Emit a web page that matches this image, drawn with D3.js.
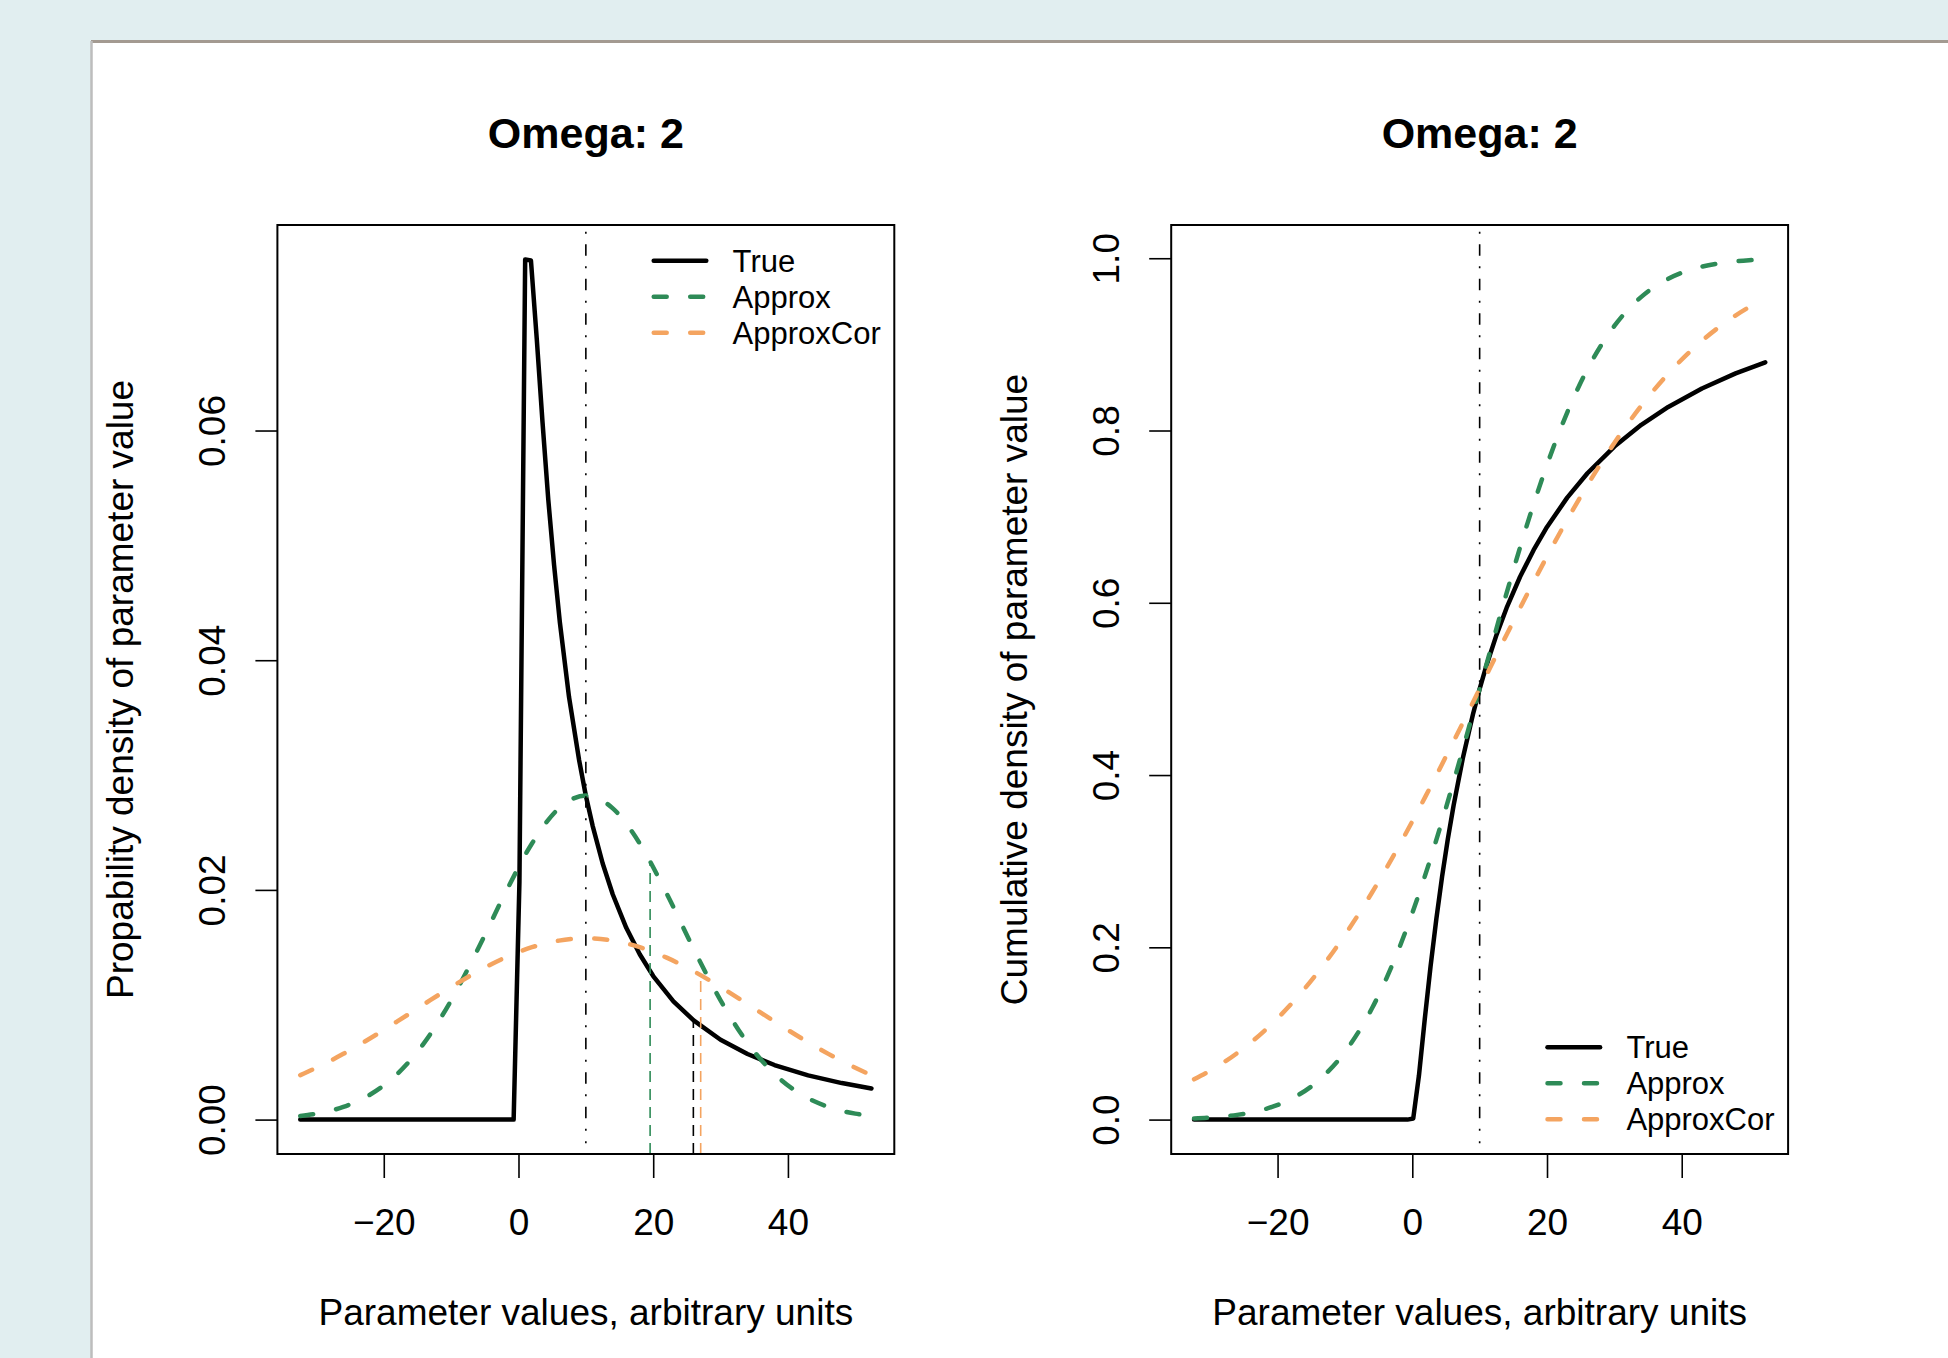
<!DOCTYPE html>
<html>
<head>
<meta charset="utf-8">
<script src="https://cdn.jsdelivr.net/npm/d3@7"></script>
<style>
  body { margin: 0; background: #e1eef0; }
  text { font-family: "Liberation Sans", Arial, sans-serif; fill: #000; }
</style>
</head>
<body>
<div id="chart"></div>
<script>
(function() {

  var width = 1948, height = 1358;

  // x grid shared by the two normal approximations
  var approxX = [-32.4, -30, -26, -22, -18, -14, -10, -6, -2, 2, 6, 10, 14, 18, 22, 26, 30, 34, 38, 42, 46, 50, 52.4];
  var approxDens = [0.000315, 0.000517, 0.001105, 0.002181, 0.003974, 0.006684, 0.01038, 0.01487, 0.01968, 0.02404, 0.02710, 0.02821,
                    0.02710, 0.02404, 0.01968, 0.01487, 0.01038, 0.006684, 0.003974, 0.002181, 0.001105, 0.000517, 0.000315];
  var corDens = [0.003866, 0.004513, 0.005725, 0.007083, 0.008546, 0.010056, 0.011540, 0.012917, 0.014100, 0.015010, 0.015585, 0.015781,
                 0.015585, 0.015010, 0.014100, 0.012917, 0.011540, 0.010056, 0.008546, 0.007083, 0.005725, 0.004513, 0.003866];
  var approxCum = [0.00136, 0.00234, 0.00545, 0.0118, 0.0239, 0.0448, 0.0786, 0.1289, 0.1981, 0.2858, 0.3887, 0.5,
                   0.6113, 0.7142, 0.8019, 0.8711, 0.9214, 0.9552, 0.9761, 0.9882, 0.99455, 0.99766, 0.99864];
  var corCum = [0.0468, 0.0568, 0.0772, 0.1028, 0.1340, 0.1712, 0.2144, 0.2634, 0.3175, 0.3758, 0.4371, 0.5,
                0.5629, 0.6242, 0.6825, 0.7366, 0.7856, 0.8288, 0.8660, 0.8972, 0.9228, 0.9432, 0.9532];

  // the "true" curve, sampled finer around the sharp peak
  var trueX = [-32.4, -0.72, 0.14, 0.99, 1.85, 2.71, 3.57, 4.42, 5.28, 6.14, 7.5, 9, 10, 11, 12.5, 14, 16, 18, 20, 23, 26, 30, 34, 38, 43, 48, 52.4];
  var trueDens = [0, 0, 0.0207, 0.0749, 0.0748, 0.0680, 0.0607, 0.0540, 0.0483, 0.0433, 0.0368, 0.0313, 0.0282, 0.0256, 0.0223, 0.0196,
                  0.0167, 0.0144, 0.0125, 0.0103, 0.00864, 0.00695, 0.00571, 0.00475, 0.00385, 0.00318, 0.00271];
  var trueCum = [0, 0, 0.0012, 0.0513, 0.1165, 0.1778, 0.2329, 0.2820, 0.3258, 0.3651, 0.4194, 0.4703, 0.5, 0.5269, 0.5627, 0.5940,
                 0.6302, 0.6611, 0.6880, 0.7221, 0.7504, 0.7814, 0.8066, 0.8274, 0.8488, 0.8663, 0.8792];

  var seriesNames = ["True", "Approx", "ApproxCor"];
  var seriesColors = ["#000000", "#2e8b57", "#f4a460"];

  var medianX = 10;
  // upper quartiles (True, Approx, ApproxCor) and the density there
  var quartileX = [25.96, 19.54, 27.05];
  var quartileDens = [0.00866, 0.02247, 0.01257];

  var xTicks = [-20, 0, 20, 40];
  var densTicks = [0, 0.02, 0.04, 0.06];
  var cumTicks = [0, 0.2, 0.4, 0.6, 0.8, 1.0];

  var titleText = "Omega: 2";
  var xLabel = "Parameter values, arbitrary units";

  var svg = d3.select("#chart").append("svg")
    .attr("width", width)
    .attr("height", height);

  svg.append("rect").attr("width", width).attr("height", height).attr("fill", "#e1eef0");
  // white sheet with its border
  svg.append("rect").attr("x", 92).attr("y", 41).attr("width", width - 92).attr("height", height - 41).attr("fill", "#fff");
  svg.append("line").attr("x1", 91).attr("x2", width).attr("y1", 41.5).attr("y2", 41.5)
    .attr("stroke", "#a39a91").attr("stroke-width", 3);
  svg.append("line").attr("x1", 91.5).attr("x2", 91.5).attr("y1", 41).attr("y2", height)
    .attr("stroke", "#bdbdbd").attr("stroke-width", 2.5);

  var figX = 93, figW = 893.8;
  var margin = {top: 225, right: 92.5, bottom: 204, left: 184.4};

  // R style axis range: data range widened by 4%
  function rLimits(vals) {
    var e = d3.extent(vals), pad = (e[1] - e[0]) * 0.04;
    return [e[0] - pad, e[1] + pad];
  }

  var curves = [
    {x: trueX, curve: d3.curveLinear, dash: null},
    {x: approxX, curve: d3.curveMonotoneX, dash: "13 23.5"},
    {x: approxX, curve: d3.curveMonotoneX, dash: "13 23.5"}
  ];

  function drawPanel(k, ys, yTicks, yFmt, yLabel, legendAtTop, showQuartiles) {
    var left = figX + k * figW + margin.left;
    var right = figX + (k + 1) * figW - margin.right;
    var top = margin.top, bottom = height - margin.bottom;

    var x = d3.scaleLinear().domain(rLimits(trueX.concat(approxX))).range([left, right]);
    var y = d3.scaleLinear().domain(rLimits(d3.merge(ys).concat([0]))).range([bottom, top]);

    var g = svg.append("g");

    // series
    ys.forEach(function(vals, i) {
      var pts = d3.zip(curves[i].x, vals);
      g.append("path")
        .attr("d", d3.line().x(function(d) { return x(d[0]); }).y(function(d) { return y(d[1]); }).curve(curves[i].curve)(pts))
        .attr("fill", "none")
        .attr("stroke", seriesColors[i])
        .attr("stroke-width", 4.5)
        .attr("stroke-linecap", "round")
        .attr("stroke-linejoin", "round")
        .attr("stroke-dasharray", curves[i].dash);
    });

    // median line (dot-dash)
    var span = bottom - top;
    g.append("line")
      .attr("x1", x(medianX)).attr("x2", x(medianX))
      .attr("y1", top + span * 0.0072).attr("y2", bottom - span * 0.0115)
      .attr("stroke", "#000").attr("stroke-width", 1.6)
      .attr("stroke-dasharray", "2 10.5 11.5 10.5");

    if (showQuartiles) {
      quartileX.forEach(function(q, i) {
        g.append("line")
          .attr("x1", x(q)).attr("x2", x(q))
          .attr("y1", bottom).attr("y2", y(quartileDens[i]))
          .attr("stroke", seriesColors[i]).attr("stroke-width", 1.6)
          .attr("stroke-dasharray", "11 7");
      });
    }

    // box
    g.append("rect")
      .attr("x", left).attr("y", top).attr("width", right - left).attr("height", bottom - top)
      .attr("fill", "none").attr("stroke", "#000").attr("stroke-width", 2);

    // x axis
    var xAxis = g.append("g").attr("transform", "translate(0," + bottom + ")")
      .call(d3.axisBottom(x).tickValues(xTicks).tickSize(24).tickPadding(31));
    xAxis.select(".domain").remove();
    xAxis.selectAll(".tick line").attr("stroke-width", 1.6);
    xAxis.selectAll(".tick text").attr("font-size", 37).attr("font-family", "Liberation Sans, Arial, sans-serif");

    // y axis, labels parallel to the axis as in R
    var yAxis = g.append("g").attr("transform", "translate(" + left + ",0)")
      .call(d3.axisLeft(y).tickValues(yTicks).tickSize(22).tickFormat(d3.format(yFmt)));
    yAxis.select(".domain").remove();
    yAxis.selectAll(".tick line").attr("stroke-width", 1.6);
    yAxis.selectAll(".tick text")
      .attr("x", null).attr("dy", null)
      .attr("text-anchor", "middle")
      .attr("font-size", 37).attr("font-family", "Liberation Sans, Arial, sans-serif")
      .attr("transform", "translate(-52.4,0) rotate(-90)");

    // titles
    g.append("text")
      .attr("x", (left + right) / 2).attr("y", 148)
      .attr("text-anchor", "middle")
      .attr("font-size", 43).attr("font-weight", "bold")
      .text(titleText);
    g.append("text")
      .attr("x", (left + right) / 2).attr("y", 1325)
      .attr("text-anchor", "middle")
      .attr("font-size", 37)
      .text(xLabel);
    g.append("text")
      .attr("transform", "translate(" + (left - 144) + "," + ((top + bottom) / 2) + ") rotate(-90)")
      .attr("text-anchor", "middle")
      .attr("font-size", 37)
      .text(yLabel);

    // legend
    var rowGap = 36;
    var legend = g.append("g");
    seriesNames.forEach(function(name, i) {
      var ry = legendAtTop ? top + 35.7 + i * rowGap : bottom - 34.7 - (2 - i) * rowGap;
      legend.append("line")
        .attr("x1", right - 240.6).attr("x2", right - 188)
        .attr("y1", ry).attr("y2", ry)
        .attr("stroke", seriesColors[i]).attr("stroke-width", 4.5)
        .attr("stroke-linecap", "round")
        .attr("stroke-dasharray", curves[i].dash);
      legend.append("text")
        .attr("x", right - 161.7).attr("y", ry).attr("dy", "0.36em")
        .attr("font-size", 31)
        .text(name);
    });
  }

  drawPanel(0, [trueDens, approxDens, corDens], densTicks, ".2f",
            "Propability density of parameter value", true, true);
  drawPanel(1, [trueCum, approxCum, corCum], cumTicks, ".1f",
            "Cumulative density of parameter value", false, false);

})();
</script>
</body>
</html>
